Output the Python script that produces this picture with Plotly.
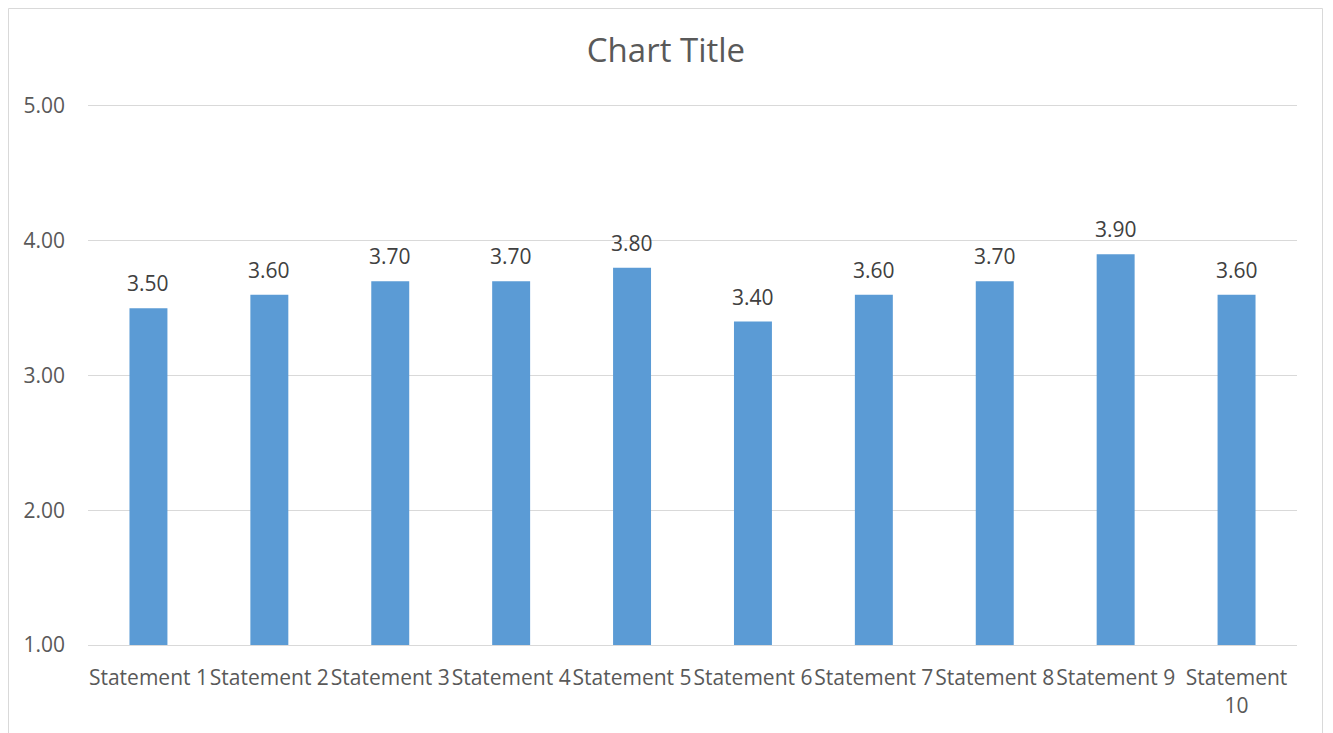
import plotly.graph_objects as go

categories = ["Statement 1", "Statement 2", "Statement 3", "Statement 4", "Statement 5",
              "Statement 6", "Statement 7", "Statement 8", "Statement 9", "Statement 10"]
tick_labels = ["Statement 1", "Statement 2", "Statement 3", "Statement 4", "Statement 5",
               "Statement 6", "Statement 7", "Statement 8", "Statement 9", "Statement<br>10"]
values = [3.50, 3.60, 3.70, 3.70, 3.80, 3.40, 3.60, 3.70, 3.90, 3.60]
y_ticks = [1, 2, 3, 4, 5]

FONT = "Open Sans"
W, H = 1333, 733
OFF = 8  # page body margin
ML, MR, MT, MB = 88 - OFF, 44, 106 - OFF, 96

fig = go.Figure()
fig.add_trace(go.Bar(
    x=categories, y=values,
    marker=dict(color="#5B9BD5", line=dict(width=0)),
    hoverinfo="x+y",
))

annotations = []
for c, v in zip(categories, values):
    annotations.append(dict(
        x=c, y=v, xref="x", yref="y", text=f"{v:.2f}", showarrow=False,
        yanchor="bottom", yshift=9,
        font=dict(family=FONT, size=21, color="#404040"),
    ))

pw = W - ML - MR
ph = H - MT - MB
# outer chart border (figure pixel coords converted to paper)
bx0, bx1, by0, by1 = 0.5, 1314.5, 0.5, 760
fig.add_shape(type="rect", xref="paper", yref="paper",
              x0=(bx0 - ML) / pw, x1=(bx1 - ML) / pw,
              y0=(H - MB - by1) / ph, y1=(H - MB - by0) / ph,
              line=dict(color="#D9D9D9", width=1), fillcolor="rgba(0,0,0,0)", layer="below")

fig.update_layout(
    width=W, height=H,
    margin=dict(l=ML, r=MR, t=MT, b=MB, pad=0),
    paper_bgcolor="white", plot_bgcolor="white",
    showlegend=False,
    bargap=0.686,
    title=dict(text="Chart Title", x=(666 - OFF) / W, xref="container", xanchor="center",
               y=1 - (50 - OFF) / H, yref="container", yanchor="middle",
               font=dict(family=FONT, size=33, color="#595959")),
    font=dict(family=FONT, color="#595959"),
    annotations=annotations,
    xaxis=dict(
        tickmode="array", tickvals=categories, ticktext=tick_labels, tickangle=0,
        tickfont=dict(family=FONT, size=21, color="#595959"),
        showgrid=False, showline=True, linecolor="#D9D9D9", linewidth=1, mirror=True,
        ticks="", ticklabelstandoff=14, zeroline=False,
    ),
    yaxis=dict(
        range=[1, 5], tickvals=y_ticks, tickformat=".2f",
        tickfont=dict(family=FONT, size=21, color="#595959"),
        showgrid=True, gridcolor="#D9D9D9", gridwidth=1,
        showline=False, zeroline=False, ticks="", ticklabelstandoff=22,
    ),
)

fig.write_html("out.html")
